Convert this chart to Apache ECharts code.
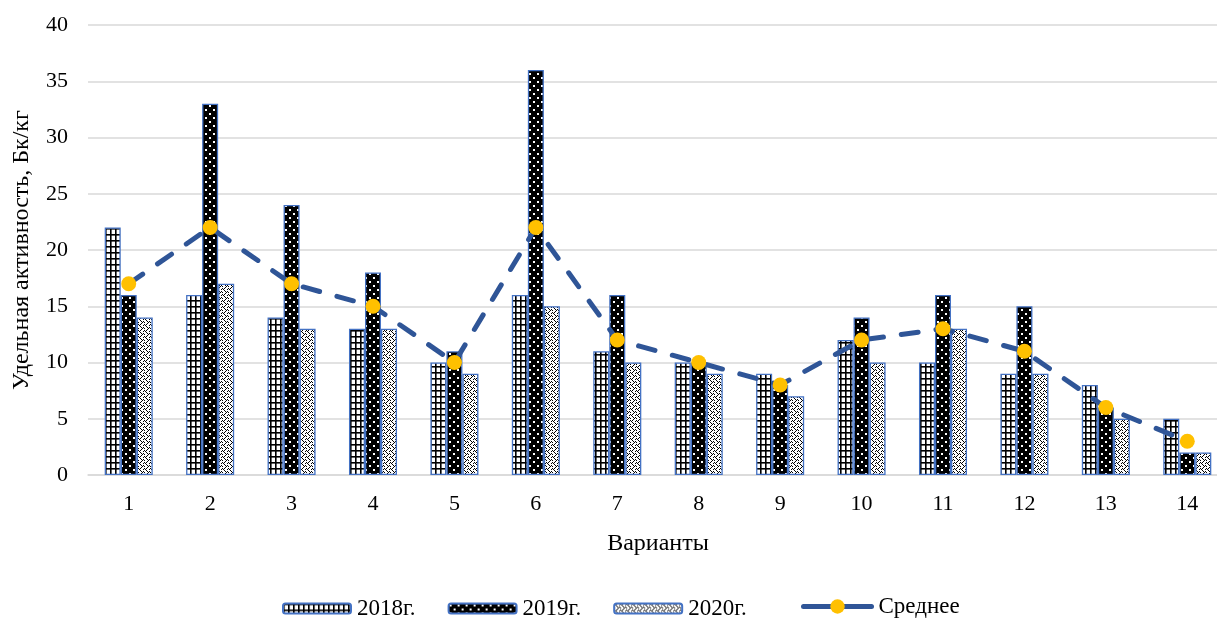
<!DOCTYPE html>
<html>
<head>
<meta charset="utf-8">
<script src="https://cdn.jsdelivr.net/npm/echarts@6/dist/echarts.min.js"></script>
<style>
  html, body { margin: 0; padding: 0; background: #fff; }
  #chart { width: 1217px; height: 621px; }
</style>
</head>
<body>
<div id="chart"></div>
<script>
// данные
var variants = ['1', '2', '3', '4', '5', '6', '7', '8', '9', '10', '11', '12', '13', '14'];
var y2018 = [22, 16, 14, 13, 10, 16, 11, 10, 9, 12, 10, 9, 8, 5];
var y2019 = [16, 33, 24, 18, 11, 36, 16, 10, 8, 14, 16, 15, 6, 2];
var y2020 = [14, 17, 13, 13, 9, 15, 10, 9, 7, 10, 13, 9, 5, 2];
var avg = [17, 22, 17, 15, 10, 22, 12, 10, 8, 12, 13, 11, 6, 3];
var yTicks = [0, 5, 10, 15, 20, 25, 30, 35, 40];

// штриховки
function makePattern (w, h, draw) {
  var c = document.createElement('canvas')
  c.width = w
  c.height = h
  draw(c.getContext('2d'))
  return { image: c, repeat: 'repeat' }
}
var gridPat = makePattern(5, 6, function (ctx) {
  ctx.fillStyle = '#fff'
  ctx.fillRect(0, 0, 5, 6)
  ctx.fillStyle = '#000'
  ctx.fillRect(0, 0, 1.6, 6)
  ctx.fillRect(0, 0, 5, 1.6)
})
var dotPat = makePattern(8, 8, function (ctx) {
  ctx.fillStyle = '#000'
  ctx.fillRect(0, 0, 8, 8)
  ctx.fillStyle = '#fff'
  ctx.fillRect(1, 1, 2, 2)
  ctx.fillRect(5, 5, 2, 2)
})
var checkPat = makePattern(6, 6, function (ctx) {
  ctx.fillStyle = '#fff'
  ctx.fillRect(0, 0, 6, 6)
  ctx.fillStyle = '#000'
  ctx.fillRect(0, 0, 1, 1)
  ctx.fillRect(2, 0, 1, 1)
  ctx.fillRect(1, 1, 1, 1)
  ctx.fillRect(3, 3, 1, 1)
  ctx.fillRect(5, 3, 1, 1)
  ctx.fillRect(4, 4, 1, 1)
  ctx.fillRect(0, 4, 1, 1)
  ctx.fillRect(2, 2, 1, 1)
  ctx.fillRect(5, 1, 1, 1)
  ctx.fillRect(3, 5, 1, 1)
})

var font = 'Liberation Serif'

function barSeries (name, data, pat) {
  return {
    name: name,
    type: 'bar',
    data: data,
    barGap: '0%',
    barCategoryGap: '41%',
    itemStyle: { color: pat, borderColor: '#4472C4', borderWidth: 1.3 }
  }
}

var chart = echarts.init(document.getElementById('chart'))
chart.setOption({
  animation: false,
  textStyle: { fontFamily: font, color: '#000' },
  grid: { left: 88, width: 1140, top: 25, height: 450, outerBoundsMode: 'none', containLabel: false },
  legend: [{
    top: 592,
    left: 277,
    itemWidth: 68,
    itemHeight: 10,
    itemGap: 32,
    textStyle: { fontFamily: font, fontSize: 23, color: '#000', padding: [0, 0, 0, 1] },
    data: ['2018г.', '2019г.', '2020г.']
  }, {
    top: 590,
    left: 796,
    itemWidth: 68,
    itemHeight: 18,
    textStyle: { fontFamily: font, fontSize: 23, color: '#000', padding: [0, 0, 0, 2] },
    data: [{ name: 'Среднее', lineStyle: { type: 'solid', width: 5 } }]
  }],
  xAxis: {
    type: 'category',
    data: variants,
    name: 'Варианты',
    nameLocation: 'middle',
    nameGap: 57,
    nameTextStyle: { fontFamily: font, fontSize: 24, color: '#000' },
    axisLine: { lineStyle: { color: '#D9D9D9', width: 1.5 } },
    axisTick: { show: false },
    axisLabel: { fontFamily: font, fontSize: 22, color: '#000', margin: 18 }
  },
  yAxis: {
    type: 'value',
    min: yTicks[0],
    max: yTicks[yTicks.length - 1],
    interval: 5,
    name: 'Удельная активность, Бк/кг',
    nameLocation: 'middle',
    nameGap: 54,
    nameTextStyle: { fontFamily: font, fontSize: 24, color: '#000' },
    axisLine: { show: false },
    axisTick: { show: false },
    axisLabel: { fontFamily: font, fontSize: 22, color: '#000', margin: 20 },
    splitLine: { lineStyle: { color: '#D9D9D9', width: 1.5 } }
  },
  series: [
    barSeries('2018г.', y2018, gridPat),
    barSeries('2019г.', y2019, dotPat),
    barSeries('2020г.', y2020, checkPat),
    {
      name: 'Среднее',
      type: 'line',
      data: avg,
      symbol: 'circle',
      symbolSize: 15,
      itemStyle: { color: '#FFC000' },
      lineStyle: { color: '#2F5597', width: 5, type: [17, 18], cap: 'round' },
      z: 5
    }
  ]
})
</script>
</body>
</html>
